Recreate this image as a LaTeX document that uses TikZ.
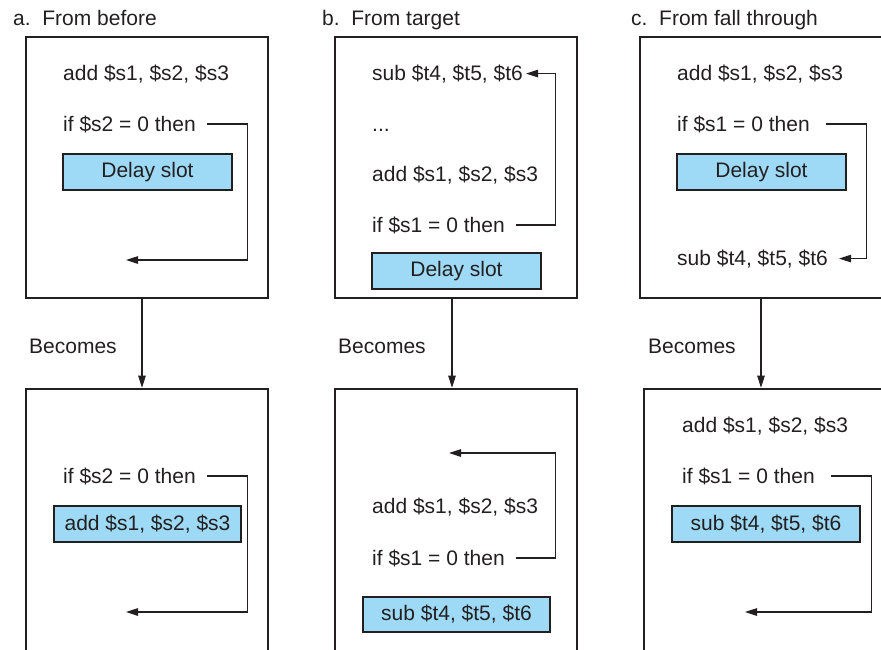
\documentclass[tikz,border=0pt]{standalone}
\usepackage{fontspec}
\setmainfont{Liberation Sans}
\usetikzlibrary{arrows.meta,calc}
\definecolor{slotblue}{RGB}{158,218,245}
\definecolor{ink}{RGB}{35,31,32}
\begin{document}
\begin{tikzpicture}[x=1pt,y=-1pt,
  txt/.style={anchor=base west, inner sep=0pt, font=\fontsize{21}{25}\selectfont, text=ink},
  bigbox/.style={draw=ink, line width=2.6pt, inner sep=0pt},
  slot/.style={draw=ink, line width=2.6pt, fill=slotblue, inner sep=0pt, font=\fontsize{21}{25}\selectfont, text=ink},
  conn/.style={draw=ink, line width=1.1pt},
  arr/.style={conn, -{Triangle[length=12pt,width=7.5pt]}}]
\useasboundingbox (0,0) rectangle (881,649);
\clip (0,0) rectangle (881,649);

% ---------- column a ----------
\node[txt] (titA) at (13,25) {a.\ \ From before};
\node[bigbox, minimum width=242pt, minimum height=261pt] (topA) at (147,167.5) {};
\node[txt] (addA) at (63,80) {add \$s1, \$s2, \$s3};
\node[txt] (ifA) at (63,131) {if \$s2 = 0 then};
\node[slot, minimum width=169pt, minimum height=36pt] (slotA) at (147.5,172) {Delay slot};
\coordinate (tA) at (126,260);
\draw[arr] ([xshift=11pt]ifA.east) -- ++(41,0) |- (tA);

\node[txt] (becA) at (29,353) {Becomes};
\node[bigbox, minimum width=242pt, minimum height=311pt] (botA) at (147,544.5) {};
\draw[arr] ([xshift=-5pt]topA.south) -- ([xshift=-5pt]topA.south |- botA.north);
\node[txt] (ifA2) at (63,483) {if \$s2 = 0 then};
\node[slot, minimum width=187pt, minimum height=36pt] (slotA2) at (147.5,524) {add \$s1, \$s2, \$s3};
\coordinate (tA2) at (126,612);
\draw[arr] ([xshift=11pt]ifA2.east) -- ++(41,0) |- (tA2);

% ---------- column b ----------
\node[txt] (titB) at (322,25) {b.\ \ From target};
\node[bigbox, minimum width=242pt, minimum height=261pt] (topB) at (456,167.5) {};
\node[txt] (subB) at (372,80) {sub \$t4, \$t5, \$t6};
\node[txt] (dotsB) at (372,131) {...};
\node[txt] (addB) at (372,181) {add \$s1, \$s2, \$s3};
\node[txt] (ifB) at (372,232) {if \$s1 = 0 then};
\node[slot, minimum width=169pt, minimum height=36pt] (slotB) at (456.5,271) {Delay slot};
\draw[arr] ([xshift=11pt]ifB.east) -- ++(40,0) |- ([xshift=3pt]subB.east);

\node[txt] (becB) at (338,353) {Becomes};
\node[bigbox, minimum width=242pt, minimum height=311pt] (botB) at (456,544.5) {};
\draw[arr] ([xshift=-4pt]topB.south) -- ([xshift=-4pt]topB.south |- botB.north);
\coordinate (tB2) at (449,453);
\node[txt] (addB2) at (372,513) {add \$s1, \$s2, \$s3};
\node[txt] (ifB2) at (372,565) {if \$s1 = 0 then};
\draw[arr] ([xshift=11pt]ifB2.east) -- ++(40,0) |- (tB2);
\node[slot, minimum width=187pt, minimum height=35pt] (slotB2) at (456.5,614.5) {sub \$t4, \$t5, \$t6};

% ---------- column c ----------
\node[txt] (titC) at (631,25) {c.\ \ From fall through};
\node[bigbox, minimum width=250pt, minimum height=261pt] (topC) at (765,167.5) {};
\node[txt] (addC) at (677,80) {add \$s1, \$s2, \$s3};
\node[txt] (ifC) at (677,131) {if \$s1 = 0 then};
\node[slot, minimum width=169pt, minimum height=36pt] (slotC) at (761.5,172) {Delay slot};
\node[txt] (subC) at (677,265) {sub \$t4, \$t5, \$t6};
\draw[arr] ([xshift=16pt]ifC.east) -- ++(41,0) |- ([xshift=11pt]subC.east);

\node[txt] (becC) at (648,353) {Becomes};
\node[bigbox, minimum width=246pt, minimum height=311pt] (botC) at (767,544.5) {};
\draw[arr] ([xshift=-4pt]topC.south) -- ([xshift=-4pt]topC.south |- botC.north);
\node[txt] (addC2) at (682,432) {add \$s1, \$s2, \$s3};
\node[txt] (ifC2) at (682,483) {if \$s1 = 0 then};
\node[slot, minimum width=188pt, minimum height=36pt] (slotC2) at (766,524) {sub \$t4, \$t5, \$t6};
\coordinate (tC2) at (745,612);
\draw[arr] ([xshift=16pt]ifC2.east) -- ++(41,0) |- (tC2);
\end{tikzpicture}
\end{document}
